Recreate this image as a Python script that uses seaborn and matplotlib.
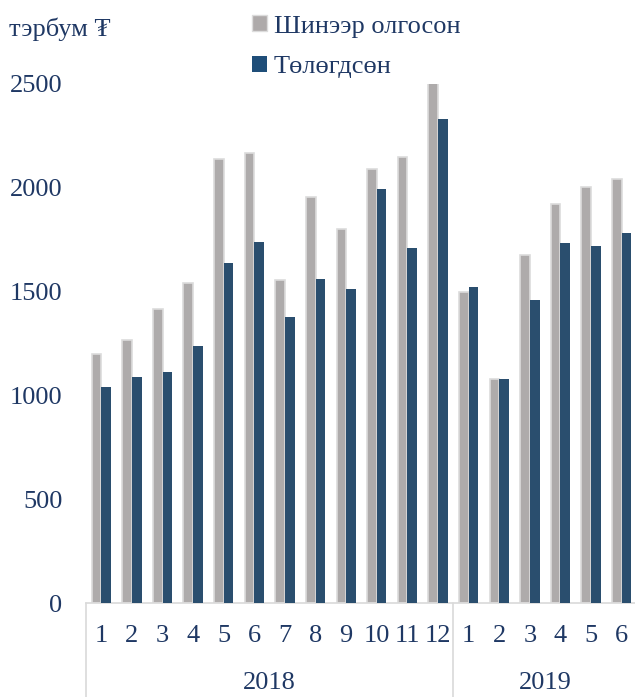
import numpy as np
import pandas as pd
import matplotlib
matplotlib.use("Agg")
import matplotlib.pyplot as plt
import matplotlib.transforms as mtransforms
from matplotlib.patches import Patch
import seaborn as sns

# ---- data ----
months = ["1", "2", "3", "4", "5", "6", "7", "8", "9", "10", "11", "12",
          "1", "2", "3", "4", "5", "6"]
years = ["2018", "2019"]
year_counts = [12, 6]
new_loans = [1200, 1267, 1416, 1541, 2139, 2168, 1556, 1956, 1802, 2091, 2148, 2520,
             1498, 1079, 1676, 1922, 2004, 2042]
repaid = [1040, 1089, 1113, 1238, 1638, 1739, 1378, 1561, 1513, 1994, 1710, 2331,
          1522, 1080, 1460, 1734, 1720, 1782]
series_names = ["Шинээр олгосон", "Төлөгдсөн"]
unit_label = "тэрбум ₮"
yticks = [0, 500, 1000, 1500, 2000, 2500]

# ---- style ----
sns.set_theme(style="white")
plt.rcParams["font.family"] = ["Liberation Serif", "DejaVu Serif"]
TXT = "#1F3864"
GREY = "#AEAAAA"
BLUE = "#1F4E79"
FS = 19

idx = [f"{i:02d}" for i in range(len(months))]
df = pd.DataFrame({
    "idx": idx * 2,
    "value": new_loans + repaid,
    "series": [series_names[0]] * len(idx) + [series_names[1]] * len(idx),
})

fig = plt.figure(figsize=(6.35, 6.97), dpi=100)
ax = fig.add_axes([86 / 635, 94 / 697, 551 / 635, 519 / 697])

sns.barplot(data=df, x="idx", y="value", hue="series", order=idx,
            hue_order=series_names, palette=[GREY, BLUE], width=0.63,
            dodge=True, errorbar=None, ax=ax, legend=False)

n = len(idx)
for i, p in enumerate(ax.patches[:2 * n]):
    if i < n:
        p.set_edgecolor("#DCDCDC")
        p.set_linewidth(1.2)
        p.set_zorder(2)
    else:
        p.set_edgecolor(BLUE)
        p.set_linewidth(0.0)
        p.set_zorder(3)

ax.set_ylim(0, 2500)
ax.set_xlim(-0.5, n - 0.5)
ax.set_yticks(yticks)
ax.set_yticklabels([str(t) for t in yticks], fontsize=FS, color=TXT)
ax.tick_params(axis="y", length=0, pad=17)
ax.set_xticks(range(n))
ax.set_xticklabels(months, fontsize=FS, color=TXT)
ax.tick_params(axis="x", length=0, pad=16)
ax.set_xlabel("")
ax.set_ylabel("")
for s in ["top", "right", "left"]:
    ax.spines[s].set_visible(False)
ax.spines["bottom"].set_color("#D9D9D9")
ax.spines["bottom"].set_linewidth(1.2)

# group separators and year labels
trans = mtransforms.blended_transform_factory(ax.transData, ax.transAxes)
bottom = -94 / 519
start = 0
bounds = [-0.5]
for y, c in zip(years, year_counts):
    ax.text(start + (c - 1) / 2, -80 / 519, y, transform=trans, ha="center",
            va="center", fontsize=FS, color=TXT)
    start += c
    bounds.append(start - 0.5)
for b in bounds:
    ax.plot([b, b], [0, bottom], transform=trans, color="#D9D9D9",
            lw=1.2, clip_on=False)

# unit label
fig.text(9 / 635, 1 - 29 / 697, unit_label, fontsize=FS, color=TXT,
         ha="left", va="center")

# legend
handles = [Patch(facecolor=GREY, edgecolor="#DCDCDC", lw=1.0),
           Patch(facecolor=BLUE, edgecolor=BLUE, lw=0.0)]
leg = fig.legend(handles, series_names, loc="upper left",
                 bbox_to_anchor=(234 / 635, 1 + 3 / 697), frameon=False,
                 fontsize=FS, handlelength=0.55, handleheight=0.55,
                 handletextpad=0.25, labelspacing=0.68, borderpad=0.2)
for t in leg.get_texts():
    t.set_color(TXT)

fig.savefig("out.png", dpi=100)
